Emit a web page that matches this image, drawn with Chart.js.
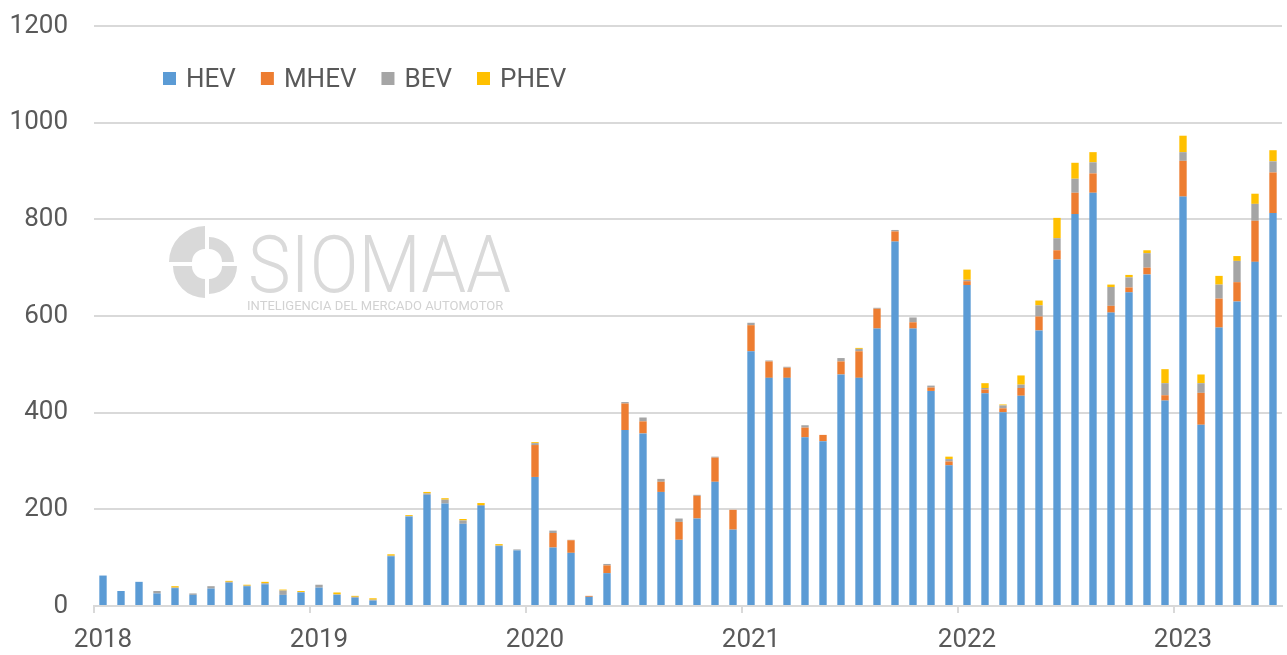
<!DOCTYPE html>
<html>
<head>
<meta charset="utf-8">
<script src="https://cdn.jsdelivr.net/npm/chart.js@4.4.0/dist/chart.umd.min.js"></script>
<style>
  html, body { margin: 0; padding: 0; background: #fff; }
  #wrap { width: 1287px; height: 655px; }
</style>
</head>
<body>
<div id="wrap"><canvas id="chart" width="1287" height="655"></canvas></div>
<script>
// monthly values, Jan 2018 .. Jun 2023
const years = ['2018', '2019', '2020', '2021', '2022', '2023'];
const seriesNames = ['HEV', 'MHEV', 'BEV', 'PHEV'];
const seriesColors = ['#5B9BD5', '#ED7D31', '#A5A5A5', '#FFC000'];

const hev = [
  63, 31, 50, 26, 37, 23, 36, 48, 41, 45, 23, 28,
  38, 23, 17, 11, 103, 185, 230, 212, 170, 207, 124, 115,
  267, 121, 110, 19, 68, 364, 357, 236, 137, 181, 257, 158,
  527, 472, 472, 349, 341, 479, 472, 574, 754, 574, 445, 291,
  664, 440, 401, 435, 570, 717, 811, 855, 607, 649, 686, 425,
  847, 375, 576, 630, 712, 813
];
const mhev = [
  0, 0, 0, 0, 0, 0, 0, 0, 0, 0, 0, 0,
  0, 0, 0, 0, 0, 0, 0, 0, 0, 0, 0, 0,
  66, 30, 26, 2, 16, 55, 25, 21, 37, 47, 50, 41,
  54, 34, 21, 20, 13, 27, 55, 41, 21, 13, 7, 8,
  8, 8, 8, 16, 29, 19, 44, 40, 14, 10, 14, 11,
  74, 66, 60, 40, 85, 84
];
const bev = [
  0, 0, 0, 5, 1, 3, 5, 2, 1, 2, 9, 1,
  6, 1, 2, 2, 1, 1, 3, 8, 7, 2, 1, 2,
  4, 5, 1, 0, 3, 3, 8, 6, 7, 2, 2, 0,
  5, 2, 2, 5, 0, 7, 5, 2, 3, 10, 4, 5,
  3, 3, 6, 7, 23, 25, 29, 23, 39, 21, 30, 25,
  18, 20, 29, 44, 35, 23
];
const phev = [
  0, 0, 0, 0, 3, 0, 0, 2, 2, 3, 2, 2,
  0, 4, 2, 3, 3, 2, 3, 3, 3, 4, 3, 0,
  2, 0, 0, 0, 0, 0, 0, 0, 0, 0, 0, 0,
  0, 0, 0, 0, 0, 0, 2, 0, 0, 0, 0, 5,
  21, 10, 2, 19, 10, 42, 33, 21, 5, 5, 6, 29,
  34, 18, 18, 10, 21, 23
];
const yTicks = [0, 200, 400, 600, 800, 1000, 1200];

const months = [];
years.forEach(y => {
  for (let m = 1; m <= 12; m++) months.push(y + '-' + m);
});
months.length = hev.length;

const textColor = '#595959';
const gridColor = '#D9D9D9';

// SIOMAA watermark behind the bars
const watermark = {
  id: 'watermark',
  beforeDatasetsDraw(chart) {
    const ctx = chart.ctx;
    ctx.save();
    ctx.fillStyle = '#D9D9D9';
    const cx = 207, cy = 264, rin = 13;
    const parts = [
      [Math.PI, Math.PI * 1.5, 36, -2, -2],
      [Math.PI * 1.5, Math.PI * 2, 25, 2, -2],
      [0, Math.PI * 0.5, 28, 2, 2],
      [Math.PI * 0.5, Math.PI, 32, -2, 2]
    ];
    parts.forEach(([a0, a1, rout, dx, dy]) => {
      ctx.beginPath();
      ctx.arc(cx + dx, cy + dy, rout, a0, a1);
      ctx.arc(cx + dx, cy + dy, rin, a1, a0, true);
      ctx.closePath();
      ctx.fill();
    });
    ctx.fillStyle = '#DADADA';
    ctx.textBaseline = 'alphabetic';
    ctx.textAlign = 'left';
    ctx.font = '300 80px Roboto';
    ctx.fillText('SIOMAA', 248, 292, 263);
    ctx.fillStyle = '#D2D2D2';
    ctx.font = '13px Roboto';
    ctx.fillText('INTELIGENCIA DEL MERCADO AUTOMOTOR', 247, 310, 265);
    ctx.restore();
  }
};

// legend drawn inside the plot area
const insideLegend = {
  id: 'insideLegend',
  afterDraw(chart) {
    const ctx = chart.ctx;
    ctx.save();
    ctx.font = '26px Roboto';
    ctx.textBaseline = 'middle';
    ctx.textAlign = 'left';
    let x = 163;
    const y = 79;
    chart.data.datasets.forEach(ds => {
      ctx.fillStyle = ds.backgroundColor;
      ctx.fillRect(x, y - 7, 13, 13);
      x += 23;
      ctx.fillStyle = textColor;
      ctx.fillText(ds.label, x, y + 1);
      x += ctx.measureText(ds.label).width + 25;
    });
    ctx.restore();
  }
};

const values = [hev, mhev, bev, phev];

new Chart(document.getElementById('chart'), {
  type: 'bar',
  data: {
    labels: months,
    datasets: seriesNames.map((name, i) => ({
      label: name,
      data: values[i],
      backgroundColor: seriesColors[i],
      barPercentage: 0.41,
      categoryPercentage: 1.0
    }))
  },
  options: {
    responsive: false,
    animation: false,
    layout: { padding: { top: 26, right: 5, bottom: 0, left: 0 } },
    plugins: {
      legend: { display: false },
      tooltip: { enabled: false }
    },
    scales: {
      x: {
        stacked: true,
        afterFit(s) { s.height = 49; s.paddingLeft = 0; s.paddingRight = 0; },
        border: { display: true, color: gridColor, width: 2 },
        grid: {
          display: true,
          drawOnChartArea: false,
          drawTicks: true,
          tickLength: 7,
          lineWidth: 2,
          color: ctx => (ctx.index % 12 === 0 ? gridColor : 'rgba(0,0,0,0)')
        },
        ticks: {
          autoSkip: false,
          maxRotation: 0,
          minRotation: 0,
          padding: 12,
          color: textColor,
          font: { family: 'Roboto', size: 26 },
          callback: (v, i) => (i % 12 === 0 ? years[i / 12] : '')
        }
      },
      y: {
        stacked: true,
        min: 0,
        max: 1200,
        afterFit(s) { s.width = 94; s.paddingTop = 0; s.paddingBottom = 0; },
        afterBuildTicks(s) { s.ticks = yTicks.map(v => ({ value: v })); },
        border: { display: false },
        grid: { color: gridColor, lineWidth: 2, drawTicks: false },
        ticks: {
          padding: 26,
          color: textColor,
          font: { family: 'Roboto', size: 26 },
          callback: v => String(v)
        }
      }
    }
  },
  plugins: [watermark, insideLegend]
});
</script>
</body>
</html>
